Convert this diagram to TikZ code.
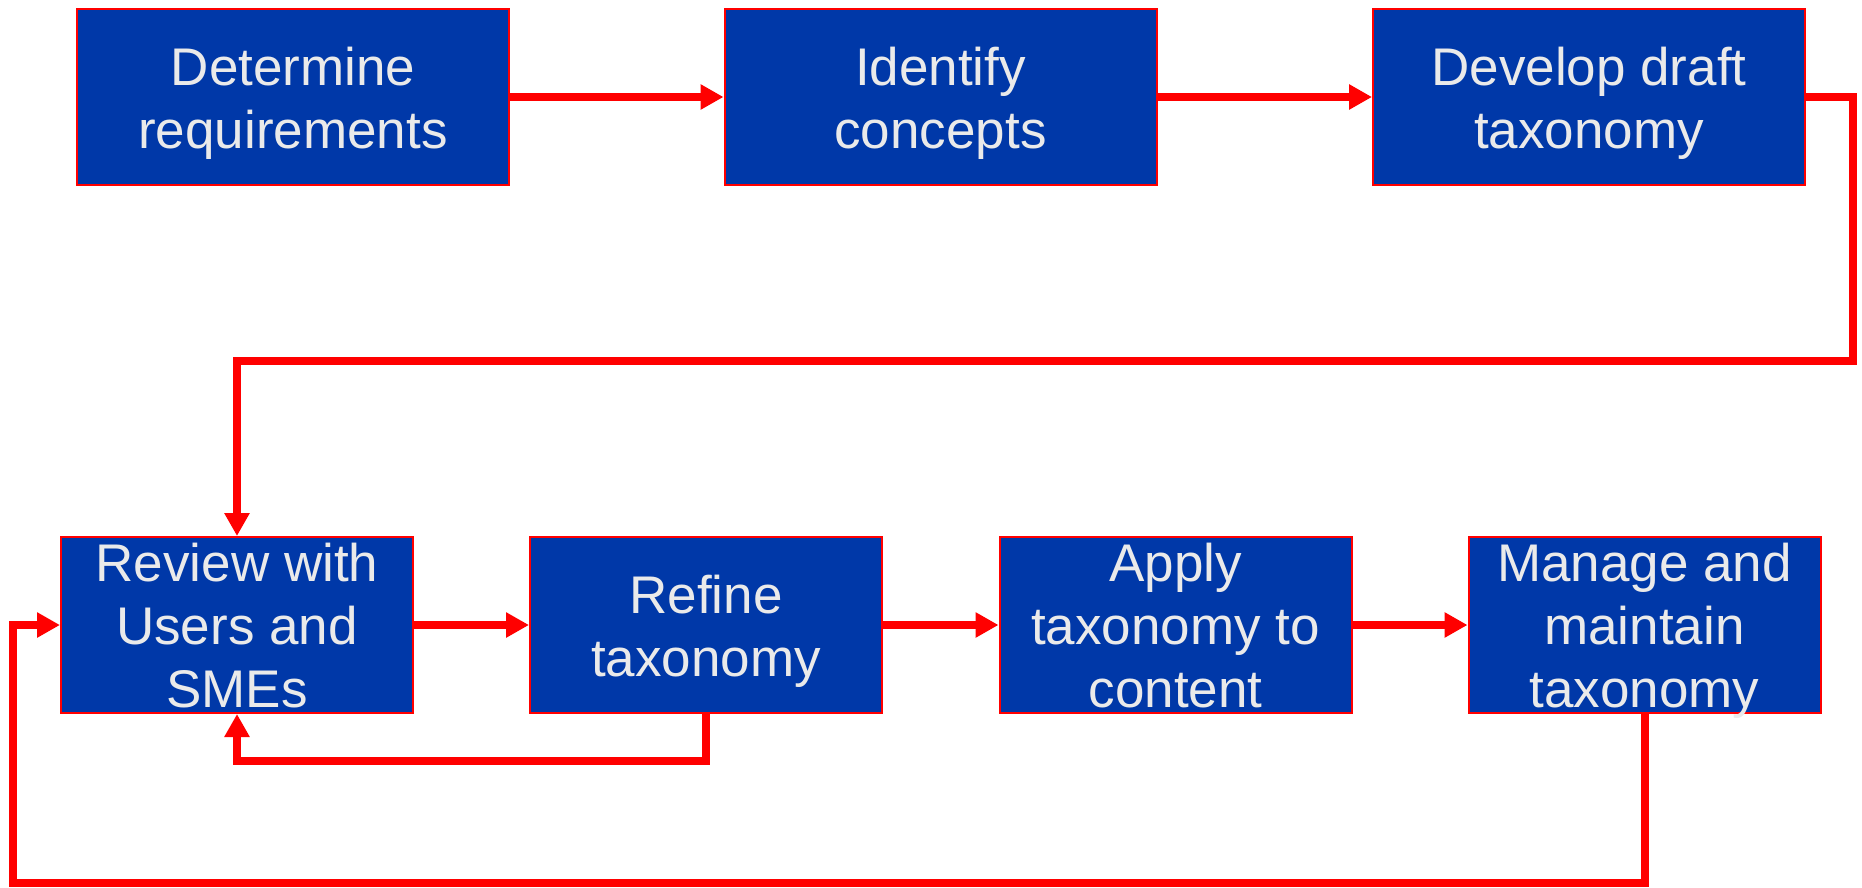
\documentclass[tikz,border=0pt]{standalone}
\usepackage{fontspec}
\setmainfont{Liberation Sans}
\usetikzlibrary{arrows.meta}
\definecolor{boxblue}{RGB}{0,56,168}
\definecolor{txtgrey}{RGB}{234,234,234}
\definecolor{linered}{RGB}{255,0,0}
\newcommand{\ls}{\rule[-12pt]{0pt}{63pt}}
\begin{document}
\begin{tikzpicture}[x=1pt,y=-1pt,
  stepbox/.style={draw=linered, line width=2pt, fill=boxblue, text=txtgrey,
    inner sep=0pt, align=center, minimum height=176pt,
    font=\fontsize{53}{63}\selectfont},
  topbox/.style={stepbox, minimum width=432pt},
  botbox/.style={stepbox, minimum width=352pt},
  threeline/.style={inner ysep=-6.5pt},
  conn/.style={draw=linered, line width=8pt, line join=miter,
    -{Triangle[width=24pt,length=23pt]}}
]
\useasboundingbox (0,0) rectangle (1862,887);
\node[topbox] (b1) at (293,97) {\ls Determine\\\ls requirements};
\node[topbox] (b2) at (940.5,97) {\ls Identify\\\ls concepts};
\node[topbox] (b3) at (1589,97) {\ls Develop draft\\\ls taxonomy};
\node[botbox, threeline] (b4) at (237,625) {\ls Review with\\\ls Users and\\\ls SMEs};
\node[botbox] (b5) at (706,625) {\ls Refine\\\ls taxonomy};
\node[botbox, threeline] (b6) at (1175.5,625) {\ls Apply\\\ls taxonomy to\\\ls content};
\node[botbox, threeline] (b7) at (1644.5,625) {\ls Manage and\\\ls maintain\\\ls taxonomy};
\coordinate (c1) at (1853,97);
\coordinate (c2) at (1853,361);
\coordinate (c3) at (237,361);
\coordinate (d1) at (706,761);
\coordinate (d2) at (237,761);
\coordinate (e1) at (1644.5,883);
\coordinate (e2) at (13,883);
\coordinate (e3) at (13,625);
\draw[conn] (b1.east) -- (b2.west);
\draw[conn] (b2.east) -- (b3.west);
\draw[conn] (b3.east) -- (c1) -- (c2) -- (c3) -- (b4.north);
\draw[conn] (b4.east) -- (b5.west);
\draw[conn] (b5.east) -- (b6.west);
\draw[conn] (b6.east) -- (b7.west);
\draw[conn] (b5.south) -- (d1) -- (d2) -- (b4.south);
\draw[conn] (b7.south) -- (e1) -- (e2) -- (e3) -- (b4.west);
\end{tikzpicture}
\end{document}
